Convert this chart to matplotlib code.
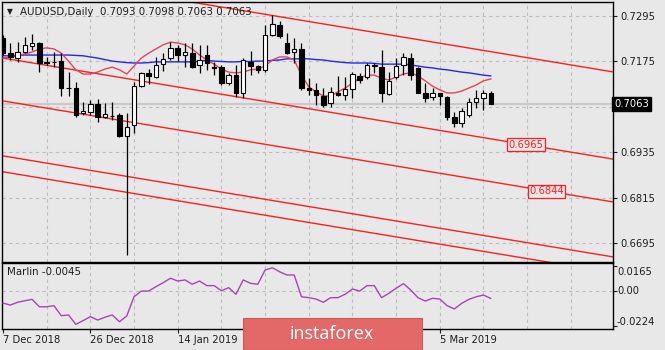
import matplotlib
matplotlib.use('Agg')
import matplotlib.pyplot as plt
import matplotlib.transforms as mtransforms
from matplotlib.patches import Rectangle
import numpy as np

# ---------------- data ----------------
symbol_title = "AUDUSD,Daily  0.7093 0.7098 0.7063 0.7063"
osc_title = "Marlin -0.0045"

opens = [0.7237, 0.7197, 0.7184, 0.7200, 0.7216, 0.7224, 0.7174, 0.7173, 0.7176, 0.7106,
         0.7105, 0.7039, 0.7042, 0.7063, 0.7029, 0.7031, 0.7034, 0.6978, 0.7008, 0.7110,
         0.7145, 0.7134, 0.7168, 0.7184, 0.7211, 0.7192, 0.7197, 0.7166, 0.7192, 0.7160,
         0.7160, 0.7118, 0.7139, 0.7092, 0.7174, 0.7163, 0.7153, 0.7245, 0.7271, 0.7224,
         0.7200, 0.7208, 0.7105, 0.7100, 0.7084, 0.7066, 0.7092, 0.7087, 0.7102, 0.7137,
         0.7134, 0.7163, 0.7160, 0.7089, 0.7134, 0.7166, 0.7184, 0.7158, 0.7092, 0.7081,
         0.7092, 0.7081, 0.7029, 0.7013, 0.7034, 0.7068, 0.7079, 0.7093]
highs = [0.7245, 0.7224, 0.7226, 0.7240, 0.7248, 0.7226, 0.7187, 0.7200, 0.7197, 0.7147,
         0.7121, 0.7068, 0.7073, 0.7076, 0.7066, 0.7068, 0.7039, 0.7039, 0.7121, 0.7147,
         0.7155, 0.7187, 0.7197, 0.7226, 0.7219, 0.7224, 0.7224, 0.7219, 0.7219, 0.7174,
         0.7166, 0.7145, 0.7166, 0.7184, 0.7203, 0.7166, 0.7271, 0.7298, 0.7282, 0.7250,
         0.7237, 0.7224, 0.7131, 0.7118, 0.7105, 0.7108, 0.7137, 0.7134, 0.7147, 0.7145,
         0.7171, 0.7171, 0.7205, 0.7147, 0.7184, 0.7197, 0.7197, 0.7160, 0.7118, 0.7105,
         0.7093, 0.7083, 0.7042, 0.7052, 0.7079, 0.7100, 0.7100, 0.7098]
lows = [0.7192, 0.7179, 0.7174, 0.7197, 0.7205, 0.7147, 0.7166, 0.7160, 0.7084, 0.7084,
        0.7029, 0.7034, 0.7034, 0.7015, 0.7026, 0.7021, 0.6976, 0.6665, 0.6986, 0.7108,
        0.7116, 0.7131, 0.7150, 0.7179, 0.7176, 0.7160, 0.7158, 0.7145, 0.7153, 0.7139,
        0.7113, 0.7113, 0.7081, 0.7079, 0.7139, 0.7145, 0.7147, 0.7242, 0.7237, 0.7195,
        0.7171, 0.7100, 0.7087, 0.7060, 0.7055, 0.7055, 0.7085, 0.7073, 0.7079, 0.7118,
        0.7129, 0.7145, 0.7068, 0.7087, 0.7129, 0.7139, 0.7126, 0.7092, 0.7068, 0.7073,
        0.7060, 0.7021, 0.7002, 0.7002, 0.7029, 0.7052, 0.7047, 0.7063]
closes = [0.7197, 0.7187, 0.7200, 0.7219, 0.7224, 0.7171, 0.7171, 0.7174, 0.7105, 0.7104,
          0.7034, 0.7044, 0.7063, 0.7029, 0.7036, 0.7032, 0.6978, 0.7002, 0.7110, 0.7145,
          0.7137, 0.7166, 0.7182, 0.7211, 0.7192, 0.7200, 0.7160, 0.7179, 0.7171, 0.7158,
          0.7118, 0.7139, 0.7092, 0.7179, 0.7163, 0.7153, 0.7245, 0.7274, 0.7242, 0.7197,
          0.7208, 0.7105, 0.7100, 0.7087, 0.7060, 0.7095, 0.7087, 0.7102, 0.7142, 0.7126,
          0.7166, 0.7166, 0.7092, 0.7124, 0.7163, 0.7187, 0.7139, 0.7092, 0.7079, 0.7092,
          0.7084, 0.7029, 0.7013, 0.7044, 0.7068, 0.7079, 0.7092, 0.7063]

ma_slow = [0.7190, 0.7190, 0.7191, 0.7192, 0.7192, 0.7192, 0.7192, 0.7192, 0.7192, 0.7192,
           0.7191, 0.7190, 0.7187, 0.7184, 0.7180, 0.7176, 0.7174, 0.7172, 0.7171, 0.7171,
           0.7172, 0.7174, 0.7174, 0.7174, 0.7174, 0.7174, 0.7174, 0.7176, 0.7178, 0.7176,
           0.7175, 0.7174, 0.7174, 0.7175, 0.7175, 0.7176, 0.7176, 0.7178, 0.7179, 0.7182,
           0.7182, 0.7182, 0.7182, 0.7180, 0.7179, 0.7176, 0.7174, 0.7172, 0.7171, 0.7171,
           0.7171, 0.7170, 0.7168, 0.7168, 0.7168, 0.7168, 0.7166, 0.7163, 0.7160, 0.7158,
           0.7155, 0.7153, 0.7150, 0.7147, 0.7145, 0.7142, 0.7139, 0.7137]
ma_fast = [0.7184, 0.7187, 0.7190, 0.7195, 0.7200, 0.7208, 0.7211, 0.7208, 0.7197, 0.7176,
           0.7153, 0.7142, 0.7142, 0.7147, 0.7155, 0.7160, 0.7153, 0.7142, 0.7163, 0.7184,
           0.7197, 0.7208, 0.7219, 0.7226, 0.7224, 0.7219, 0.7208, 0.7192, 0.7179, 0.7168,
           0.7155, 0.7147, 0.7145, 0.7147, 0.7153, 0.7155, 0.7163, 0.7179, 0.7187, 0.7187,
           0.7179, 0.7139, 0.7108, 0.7095, 0.7084, 0.7084, 0.7095, 0.7105, 0.7118, 0.7131,
           0.7139, 0.7139, 0.7131, 0.7126, 0.7134, 0.7142, 0.7145, 0.7137, 0.7124, 0.7110,
           0.7100, 0.7092, 0.7092, 0.7097, 0.7105, 0.7113, 0.7124, 0.7129]

marlin = [-0.0075, -0.0088, -0.0070, -0.0060, -0.0051, -0.0099, -0.0099, -0.0092, -0.0157, -0.0152,
          -0.0213, -0.0189, -0.0163, -0.0185, -0.0167, -0.0152, -0.0196, -0.0159, -0.0034, 0.0003,
          0.0003, 0.0031, 0.0057, 0.0086, 0.0068, 0.0075, 0.0047, 0.0068, 0.0038, 0.0038,
          0.0005, 0.0025, -0.0018, 0.0075, 0.0053, 0.0047, 0.0139, 0.0154, 0.0128, 0.0107,
          0.0107, -0.0034, -0.0040, -0.0049, -0.0070, -0.0040, -0.0040, -0.0018, 0.0016, 0.0003,
          0.0038, 0.0038, -0.0040, -0.0012, 0.0021, 0.0051, 0.0010, -0.0040, -0.0062, -0.0044,
          -0.0049, -0.0092, -0.0113, -0.0077, -0.0051, -0.0034, -0.0023, -0.0045]

# channel lines: price at first bar and common slope per bar
channel_start = [0.7414, 0.7184, 0.7071, 0.6926, 0.6884]
channel_slope = -0.000318
channel_labels = [(1, "0.6965", 69.4), (2, "0.6844", 72.3)]

price_ticks = [0.7295, 0.7175, 0.7055, 0.6935, 0.6815, 0.6695]
price_tick_labels = ["0.7295", "0.7175", "", "0.6935", "0.6815", "0.6695"]
last_price = 0.7063
osc_ticks = [0.0165, 0.0, -0.0224]
osc_tick_labels = ["0.0165", "0.00", "-0.0224"]
date_ticks = [0, 12, 24, 60]
date_labels = ["7 Dec 2018", "26 Dec 2018", "14 Jan 2019", "5 Mar 2019"]

# ---------------- layout ----------------
W, H = 665, 350
bg = '#E8E8E8'
txtc = '#1E1E1E'
fig = plt.figure(figsize=(W / 100, H / 100), dpi=100)
fig.patch.set_facecolor(bg)
plt.rcParams['font.family'] = ['DejaVu Sans']


def ax_rect(x0, y0, x1, y1):
    return [x0 / W, 1 - y1 / H, (x1 - x0) / W, (y1 - y0) / H]


ax = fig.add_axes(ax_rect(2, 2, 613, 262))
ax2 = fig.add_axes(ax_rect(2, 263, 613, 329))
xlim = (-0.137, 83.79)
for a in (ax, ax2):
    a.set_facecolor(bg)
    a.set_xlim(*xlim)
    for s in a.spines.values():
        s.set_color('#000000')
        s.set_linewidth(1.0)
    a.yaxis.tick_right()
    a.tick_params(axis='y', colors=txtc, labelsize=7.2, length=3, width=0.8,
                  direction='out', pad=2.5)
    a.tick_params(axis='x', colors=txtc, labelsize=7.2, length=3, width=0.8,
                  direction='out', pad=1.5)

ax.set_ylim(0.66461, 0.73319)
ax2.set_ylim(-0.02432, 0.01848)

n = len(opens)
idx = np.arange(n)
grid_kw = dict(color='#BDBDBD', lw=0.8, dashes=(3, 3), zorder=0)
for g in np.arange(6, 84, 6):
    ax.axvline(g, **grid_kw)
    ax2.axvline(g, **grid_kw)
for p in price_ticks:
    ax.axhline(p, **grid_kw)
ax2.axhline(0.0, **grid_kw)

# current price line
ax.axhline(last_price, color='#C9C9C9', lw=1.6, zorder=1)

# channel lines
xx = np.array([xlim[0] - 5, xlim[1] + 5])
for c0 in channel_start:
    ax.plot(xx, c0 + channel_slope * xx, color='#FF1E1E', lw=1.0, zorder=2)

# moving averages
ax.plot(idx, ma_slow, color='#2525F5', lw=1.0, zorder=3)
ax.plot(idx, ma_fast, color='#E2445E', lw=1.0, zorder=3)

# candles
o = np.array(opens); c = np.array(closes)
hi = np.array(highs); lo = np.array(lows)
ax.vlines(idx, lo, hi, color='#000000', lw=0.9, zorder=4)
up = c >= o
body_bottom = np.minimum(o, c)
body_h = np.maximum(np.abs(c - o), 0.00004)
ax.bar(idx[up], body_h[up], bottom=body_bottom[up], width=0.62,
       color='#FFFFFF', edgecolor='#000000', linewidth=0.8, zorder=5)
ax.bar(idx[~up], body_h[~up], bottom=body_bottom[~up], width=0.62,
       color='#000000', edgecolor='#000000', linewidth=0.8, zorder=5)

# price labels on channel lines
for li, lab, xi in channel_labels:
    yv = channel_start[li] + channel_slope * (xi + 2.5)
    ax.text(xi, yv, lab, color='#FF1E1E', fontsize=7.2, ha='left', va='center',
            zorder=6, bbox=dict(boxstyle='square,pad=0.15', fc=bg, ec='#FF1E1E', lw=0.9))

ax.set_yticks(price_ticks)
ax.set_yticklabels(price_tick_labels)
ax.set_xticks([])
# last price box
trans = mtransforms.blended_transform_factory(ax.transAxes, ax.transData)
ax.text(1.0 + 1 / 611, last_price, "0.7063", transform=trans, color='#FFFFFF',
        fontsize=7.2, ha='left', va='center', zorder=10, clip_on=False,
        bbox=dict(boxstyle='square,pad=0.22', fc='#000000', ec='#000000'))

# oscillator
ax2.plot(idx, marlin, color='#A646B4', lw=1.0, zorder=3)
ax2.set_yticks(osc_ticks)
ax2.set_yticklabels([])
ax2.tick_params(axis='y', length=3)
offsets_px = [-5.5, 0.0, 4.5]
for v, lab, off in zip(osc_ticks, osc_tick_labels, offsets_px):
    t2 = mtransforms.blended_transform_factory(ax2.transAxes, ax2.transData) + \
        mtransforms.ScaledTranslation(0, off / 100, fig.dpi_scale_trans)
    ax2.text(1.0 + 4 / 611, v, lab, transform=t2, color=txtc, fontsize=7.2,
             ha='left', va='center', clip_on=False)
ax2.set_xticks(date_ticks)
ax2.set_xticklabels(date_labels, ha='left')

# titles
fig.text(7 / W, 1 - 12 / H, "\u25bc", fontsize=5.5, color=txtc, va='center', ha='left')
fig.text(20 / W, 1 - 12 / H, symbol_title, fontsize=7.4, color=txtc, va='center', ha='left')
fig.text(7 / W, 1 - 272 / H, osc_title, fontsize=7.4, color=txtc, va='center', ha='left')

# logo
fig.patches.append(Rectangle((243 / W, 0), (422 - 243) / W, (350 - 318) / H,
                             transform=fig.transFigure, fc='#E36868', ec='#D05858',
                             lw=0.8, zorder=20))
fig.text((290 + 373) / 2 / W, 1 - 334 / H, "instaforex", fontsize=13, color='#FFFFFF',
         family=['Open Sans', 'DejaVu Sans'], ha='center', va='center', zorder=21)

fig.savefig('out.png', dpi=100, facecolor=bg)
